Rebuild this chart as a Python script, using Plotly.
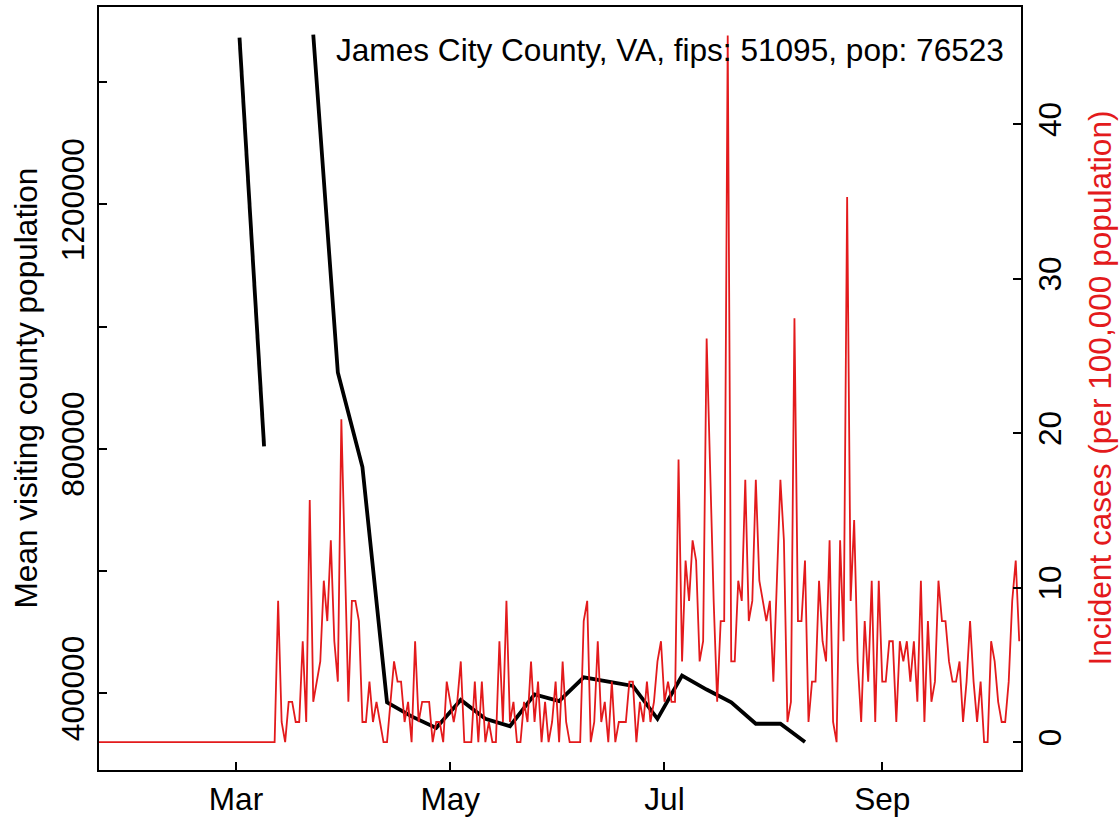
import pandas as pd
import plotly.graph_objects as go

# ---- data ----
population = 76523
start_date = "2020-01-22"
# daily incident case counts (converted to per 100,000 population below)
daily_cases = [
    0, 0, 0, 0, 0, 0, 0, 0, 0, 0, 0, 0, 0, 0, 0, 0, 0, 0, 0, 0, 0, 0, 0, 0, 0,
    0, 0, 0, 0, 0, 0, 0, 0, 0, 0, 0, 0, 0, 0, 0, 0, 0, 0, 0, 0, 0, 0, 0, 0, 0,
    0, 7, 1, 0, 2, 2, 1, 1, 5, 1, 12, 2, 3, 4, 8, 6, 10, 5, 3, 16, 9, 2, 7, 7, 6,
    1, 1, 3, 1, 2, 1, 0, 0, 2, 4, 3, 3, 1, 2, 0, 5, 1, 2, 2, 2,
    0, 1, 1, 0, 3, 2, 1, 2, 4, 0, 0, 0, 3, 0, 3, 0, 1, 0, 0, 5, 1, 7, 1, 2, 0,
    0, 2, 1, 4, 1, 3, 0, 2, 0, 1, 3, 0, 4, 1, 0, 0, 0, 0, 6, 7, 0, 1, 5, 1, 2,
    0, 3, 0, 1, 1, 1, 3, 3, 0, 2, 1, 3,
    1, 2, 4, 5, 2, 3, 2, 2, 14, 4, 9, 7, 10, 9, 4, 5, 20, 13, 7, 2, 6, 6, 35, 4, 4,
    8, 7, 13, 6, 7, 13, 8, 7, 6, 7, 3, 8, 13, 10, 1, 2, 21, 6, 6, 9, 1, 3, 3, 8, 5,
    4, 10, 1, 0, 10, 5, 27, 7,
    11, 4, 1, 6, 3, 8, 1, 8, 3, 3, 5, 5, 1, 5, 4, 5, 3, 5, 2, 8, 1, 6, 2, 3, 8,
    6, 6, 4, 3, 3, 4, 1, 3, 6, 3, 1, 3, 0, 0, 5, 4, 2, 1, 1, 3, 7, 9, 5,
]

weekly_dates = [
    "2020-03-02", "2020-03-09", "2020-03-16", "2020-03-23", "2020-03-30",
    "2020-04-06", "2020-04-13", "2020-04-20", "2020-04-27", "2020-05-04",
    "2020-05-11", "2020-05-18", "2020-05-25", "2020-06-01", "2020-06-08",
    "2020-06-15", "2020-06-22", "2020-06-29", "2020-07-06", "2020-07-13",
    "2020-07-20", "2020-07-27", "2020-08-03", "2020-08-10",
]
mean_visiting_pop = [
    1473000, 804000, None, 1478000, 925000,
    770000, 385000, 362000, 343000, 389000,
    358000, 346000, 398000, 387000, 426000,
    419000, 412000, 358000, 429000, 406000,
    385000, 350000, 350000, 320000,
]

x_tick_dates = ["2020-03-01", "2020-05-01", "2020-07-01", "2020-09-01"]
x_tick_labels = ["Mar", "May", "Jul", "Sep"]
left_tick_vals = [400000, 600000, 800000, 1000000, 1200000, 1400000]
left_tick_text = ["400000", "", "800000", "", "1200000", ""]
right_tick_vals = [0, 10, 20, 30, 40]

title_text = "James City County, VA, fips: 51095, pop: 76523"

# ---- build ----
dates = pd.date_range(start_date, periods=len(daily_cases), freq="D")
incidence = [c * 100000 / population for c in daily_cases]

FONT = "Liberation Sans, Arial, Helvetica, sans-serif"
FS = 31.6
RED = "#E31A1C"

fig = go.Figure()
fig.add_trace(go.Scatter(
    x=pd.to_datetime(weekly_dates), y=mean_visiting_pop, mode="lines",
    line=dict(color="black", width=3.8), yaxis="y", connectgaps=False,
    showlegend=False, hoverinfo="skip",
))
fig.add_trace(go.Scatter(
    x=dates, y=incidence, mode="lines",
    line=dict(color=RED, width=1.8), yaxis="y2",
    showlegend=False, hoverinfo="skip",
))

axis_common = dict(
    showgrid=False, zeroline=False, showline=True, linecolor="black", linewidth=2,
    ticks="inside", ticklen=8, tickwidth=1.6, tickcolor="black",
    tickfont=dict(family=FONT, size=FS, color="black"),
)

fig.update_layout(
    width=1119, height=822,
    margin=dict(l=99, r=98, t=5, b=49),
    paper_bgcolor="white", plot_bgcolor="white",
    font=dict(family=FONT, size=FS, color="black"),
    xaxis=dict(
        type="date", range=["2020-01-22", "2020-10-10 12:00"],
        tickvals=pd.to_datetime(x_tick_dates), ticktext=x_tick_labels,
        mirror=True, tickangle=0, **axis_common,
    ),
    yaxis=dict(
        range=[274310, 1523100], tickvals=left_tick_vals, ticktext=left_tick_text,
        tickangle=-90, mirror=True, **axis_common,
    ),
    yaxis2=dict(
        range=[-1.80, 47.59], tickvals=right_tick_vals,
        overlaying="y", side="right", tickangle=-90, **axis_common,
    ),
    annotations=[
        dict(text="Mean visiting county population", xref="paper", yref="paper",
             x=(25 - 99) / 922, y=0.5, textangle=-90, showarrow=False,
             xanchor="center", yanchor="middle",
             font=dict(family=FONT, size=FS, color="black")),
        dict(text="Incident cases (per 100,000 population)", xref="paper", yref="paper",
             x=(1099 - 99) / 922, y=0.5, textangle=-90, showarrow=False,
             xanchor="center", yanchor="middle",
             font=dict(family=FONT, size=FS, color=RED)),
        dict(text=title_text, xref="paper", yref="paper",
             x=(1006 - 99) / 922, y=1 - (48 - 5) / 768, showarrow=False,
             xanchor="right", yanchor="middle",
             font=dict(family=FONT, size=FS, color="black")),
    ],
)

fig.write_html(
    "out.html",
    config={"displayModeBar": False},
    post_script="document.body.style.margin='0';document.body.style.overflow='hidden';",
)
